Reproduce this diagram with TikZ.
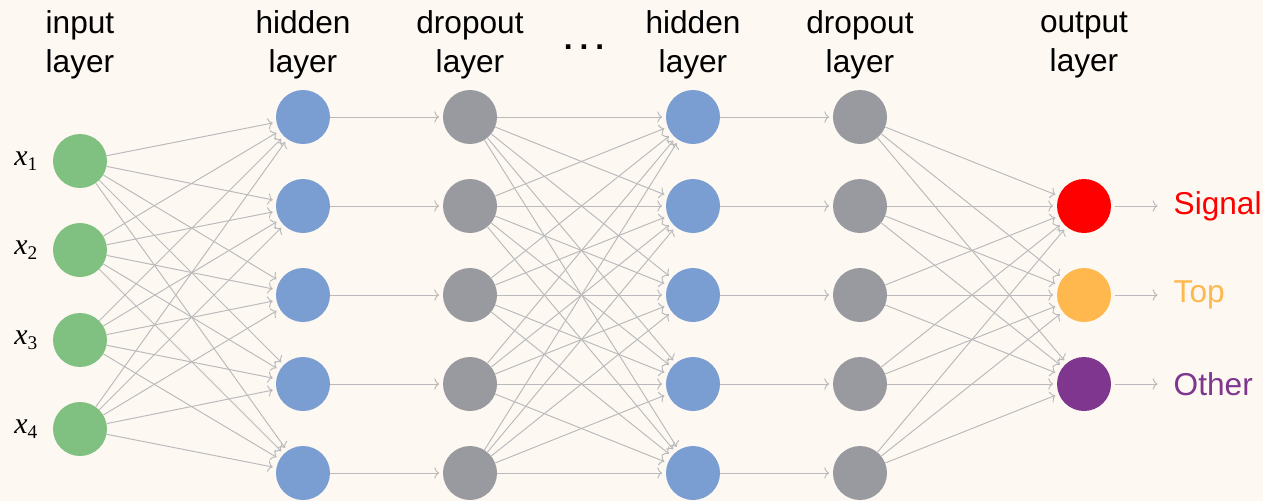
\documentclass[tikz,border=0pt]{standalone}
\usepackage{fontspec}
\setmainfont{Liberation Sans}
\newfontfamily\serifit{Liberation Serif}
\usetikzlibrary{arrows.meta, positioning}
\usepackage{xcolor}
\definecolor{bgcream}{RGB}{253,249,242}
\definecolor{ingreen}{RGB}{128,192,128}
\definecolor{hidblue}{RGB}{122,157,210}
\definecolor{dropgray}{RGB}{153,154,159}
\definecolor{sigred}{RGB}{255,0,0}
\definecolor{toporange}{RGB}{255,184,77}
\definecolor{othpurple}{RGB}{126,54,142}
\definecolor{edgegray}{RGB}{186,186,188}
\newcommand{\xin}[1]{{\serifit\itshape x}\raisebox{-0.32ex}{\fontsize{11}{11}\selectfont\serifit #1}}

\begin{document}
\begin{tikzpicture}[
        x=0.02cm, y=-0.02cm,
        neuron/.style={circle, minimum size=1.08cm, inner sep=0pt},
        conn/.style={-{To[length=2.8pt, width=6.5pt]}, draw=edgegray, line width=0.55pt, shorten >=2pt},
        title/.style={align=center, font=\fontsize{18}{22}\selectfont},
        xlab/.style={inner sep=0pt, font=\fontsize{17}{20}\selectfont},
        outlab/.style={inner sep=0pt, font=\fontsize{18}{22}\selectfont}
    ]
        \fill[bgcream] (0,0) rectangle (1263,501);
        % neurons
        \foreach \i/\y in {1/161,2/250,3/340,4/429}
            \node[neuron, fill=ingreen] (in\i) at (80,\y) {};
        \foreach \i/\y in {1/117,2/206,3/295,4/384,5/473} {
            \node[neuron, fill=hidblue] (hidA\i) at (303,\y) {};
            \node[neuron, fill=dropgray] (dropA\i) at (470,\y) {};
            \node[neuron, fill=hidblue] (hidB\i) at (693,\y) {};
            \node[neuron, fill=dropgray] (dropB\i) at (860,\y) {};
        }
        \node[neuron, fill=sigred] (out1) at (1084,206) {};
        \node[neuron, fill=toporange] (out2) at (1084,295) {};
        \node[neuron, fill=othpurple] (out3) at (1084,384) {};
        % headers
        \node[title] (tin) at (80,45) {input\\layer};
        \node[title] (thidA) at (303,45) {hidden\\layer};
        \node[title] (tdropA) at (470,45) {dropout\\layer};
        \node[font=\fontsize{18}{22}\selectfont\bfseries, inner sep=0pt] (dots) at (584,47) {.\kern0.22em.\kern0.22em.};
        \node[title] (thidB) at (693,45) {hidden\\layer};
        \node[title] (tdropB) at (860,45) {dropout\\layer};
        \node[title] (tout) at (1084,45) {output\\layer};
        % inputs and outputs
        \foreach \i in {1,...,4}
            \node[xlab, left=0.3cm of in\i] (lx\i) {\xin{\i}};
        \node[outlab, text=sigred, right=1.24cm of out1] (lab1) {Signal};
        \node[outlab, text=toporange, right=1.24cm of out2] (lab2) {Top};
        \node[outlab, text=othpurple, right=1.24cm of out3] (lab3) {Other};
        % connections
        \foreach \i in {1,...,4}
            \foreach \j in {1,...,5}
                \draw[conn] (in\i) -- (hidA\j);
        \foreach \i in {1,...,5} {
            \draw[conn] (hidA\i) -- (dropA\i);
            \draw[conn] (hidB\i) -- (dropB\i);
            \foreach \j in {1,...,5}
                \draw[conn] (dropA\i) -- (hidB\j);
            \foreach \j in {1,...,3}
                \draw[conn] (dropB\i) -- (out\j);
        }
        \foreach \i in {1,...,3}
            \draw[conn, shorten <=2pt, shorten >=9pt] (out\i) -- (lab\i);
    \end{tikzpicture}
\end{document}
